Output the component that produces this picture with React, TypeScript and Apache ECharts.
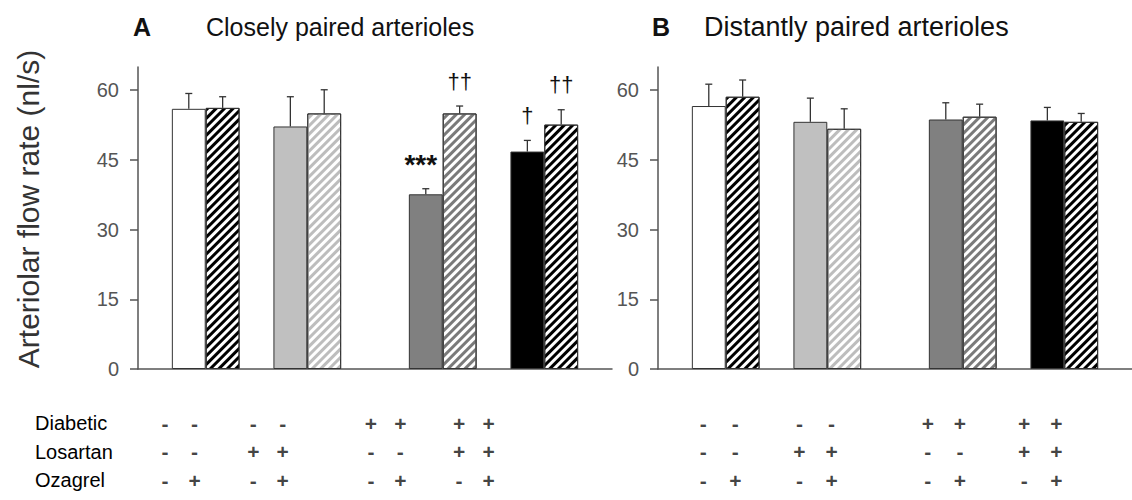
import React, { useEffect, useRef } from 'react';
import * as echarts from 'echarts';

// ---- data ----
const rowNames = ['Diabetic', 'Losartan', 'Ozagrel'];
const diabetic = ['-', '-', '-', '-', '+', '+', '+', '+'];
const losartan = ['-', '-', '+', '+', '-', '-', '+', '+'];
const ozagrel = ['-', '+', '-', '+', '-', '+', '-', '+'];

const closelyMeans = [56.0, 56.2, 52.2, 55.0, 37.6, 55.0, 46.8, 52.6];
const closelyErr = [3.3, 2.4, 6.4, 5.1, 1.2, 1.6, 2.4, 3.2];
const closelyMarks = ['', '', '', '', '***', '††', '†', '††'];

const distantlyMeans = [56.6, 58.6, 53.2, 51.7, 53.7, 54.3, 53.5, 53.2];
const distantlyErr = [4.7, 3.6, 5.1, 4.3, 3.6, 2.7, 2.8, 1.8];
const distantlyMarks = ['', '', '', '', '', '', '', ''];

const yTicks = [0, 15, 30, 45, 60];
const panelTitles = ['Closely paired arterioles', 'Distantly paired arterioles'];
const panelLetters = ['A', 'B'];
const yTitle = 'Arteriolar flow rate (nl/s)';

// ---- styling / layout ----
const FONT = 'Liberation Sans, Arial, sans-serif';
const SLOT_COUNT = 14;
const BAR_SLOTS = [1, 2, 4, 5, 8, 9, 11, 12];
const groupFill = ['#ffffff', '#c0c0c0', '#808080', '#000000'];
const stripeColor = ['#000000', '#bdbdbd', '#7a7a7a', '#000000'];

function barItemStyle(i: number) {
  const g = Math.floor(i / 2);
  const hatched = i % 2 === 1;
  if (!hatched) {
    return { color: groupFill[g], borderColor: '#333', borderWidth: 1 };
  }
  return {
    color: '#ffffff',
    borderColor: '#333',
    borderWidth: 1,
    decal: {
      symbol: 'rect',
      symbolSize: 1,
      color: stripeColor[g],
      dashArrayX: [1, 0],
      dashArrayY: [2.6, 2.6],
      rotation: -Math.PI / 4,
    },
  };
}

function barData(means: number[]) {
  const arr: any[] = Array(SLOT_COUNT).fill('-');
  means.forEach((v, i) => {
    arr[BAR_SLOTS[i]] = { value: v, itemStyle: barItemStyle(i) };
  });
  return arr;
}

function errorSeries(idx: number, means: number[], errs: number[], marks: string[]) {
  return {
    type: 'custom',
    xAxisIndex: idx,
    yAxisIndex: idx,
    z: 5,
    data: means.map((v, i) => [BAR_SLOTS[i], v, errs[i]]),
    encode: { x: 0, y: 1 },
    renderItem: (params: any, api: any) => {
      const slot = api.value(0);
      const v = api.value(1);
      const e = api.value(2);
      const base = api.coord([slot, v]);
      const top = api.coord([slot, v + e]);
      const children: any[] = [
        {
          type: 'line',
          shape: { x1: base[0], y1: base[1], x2: top[0], y2: top[1] },
          style: { stroke: '#333', lineWidth: 1.3 },
        },
        {
          type: 'line',
          shape: { x1: top[0] - 3.5, y1: top[1], x2: top[0] + 3.5, y2: top[1] },
          style: { stroke: '#333', lineWidth: 1.3 },
        },
      ];
      const m = marks[params.dataIndex];
      if (m) {
        const stars = m.indexOf('*') >= 0;
        children.push({
          type: 'text',
          style: {
            text: m,
            x: top[0] + (stars ? -5 : 0),
            y: top[1] - (stars ? 24 : 25),
            align: 'center',
            verticalAlign: 'middle',
            fontFamily: FONT,
            fontSize: stars ? 28 : 22,
            fontWeight: stars ? 'bold' : 'normal',
            fill: '#111',
          },
        });
      }
      return { type: 'group', children };
    },
  };
}

function tableSeries(idx: number) {
  const rows = [diabetic, losartan, ozagrel];
  const data: any[] = [];
  rows.forEach((row, r) => {
    row.forEach((s, i) => data.push([BAR_SLOTS[i], r, s]));
  });
  return {
    type: 'scatter',
    xAxisIndex: idx,
    yAxisIndex: idx,
    symbolSize: 1,
    itemStyle: { color: 'rgba(0,0,0,0)' },
    data,
    label: {
      show: true,
      position: 'inside',
      formatter: (p: any) => p.value[2],
      fontFamily: FONT,
      fontSize: 21,
      fontWeight: 'bold',
      color: '#111',
    },
  };
}

function buildOption(): any {
  const slotNames = Array.from({ length: SLOT_COUNT }, (_, i) => 's' + i);
  const chartGrids = [
    { left: 138, top: 67, width: 474, height: 302 },
    { left: 658, top: 67, width: 474, height: 302 },
  ];
  const tableGrids = [
    { left: 121, top: 409, width: 411.6, height: 85.5 },
    { left: 655, top: 409, width: 449.4, height: 85.5 },
  ];
  const valueAxis = (gi: number) => ({
    type: 'value',
    gridIndex: gi,
    min: 0,
    max: 65,
    interval: 15,
    splitLine: { show: false },
    axisLine: { show: true, lineStyle: { color: '#555', width: 1.5 } },
    axisTick: { show: true, length: 8, lineStyle: { color: '#555', width: 1.5 }, customValues: yTicks },
    axisLabel: { customValues: yTicks, color: '#555', fontSize: 20, fontFamily: FONT, margin: 19 },
  });
  const catAxis = (gi: number) => ({
    type: 'category',
    gridIndex: gi,
    data: slotNames,
    axisLine: { show: true, onZero: false, lineStyle: { color: '#555', width: 1.5 } },
    axisTick: { show: false },
    axisLabel: { show: false },
    splitLine: { show: false },
  });
  const tableX = (gi: number) => ({
    type: 'category',
    gridIndex: gi,
    data: slotNames,
    show: false,
  });
  const tableY = (gi: number, showLabels: boolean) => ({
    type: 'category',
    gridIndex: gi,
    data: rowNames,
    inverse: true,
    axisLine: { show: false },
    axisTick: { show: false },
    splitLine: { show: false },
    axisLabel: {
      show: showLabels,
      align: 'left',
      margin: 86,
      fontSize: 20,
      fontFamily: FONT,
      fontWeight: 'normal',
      color: '#000',
    },
  });

  return {
    animation: false,
    backgroundColor: '#ffffff',
    title: [
      { text: panelLetters[0], left: 128, top: 9, textStyle: { fontFamily: FONT, fontSize: 25, fontWeight: 'bold', color: '#111' } },
      { text: panelTitles[0], left: 201, top: 9, textStyle: { fontFamily: FONT, fontSize: 25, fontWeight: 'normal', color: '#111' } },
      { text: panelLetters[1], left: 647, top: 9, textStyle: { fontFamily: FONT, fontSize: 25, fontWeight: 'bold', color: '#111' } },
      { text: panelTitles[1], left: 699, top: 8, textStyle: { fontFamily: FONT, fontSize: 27, fontWeight: 'normal', color: '#111' } },
    ],
    grid: [...chartGrids, ...tableGrids],
    xAxis: [catAxis(0), catAxis(1), tableX(2), tableX(3)],
    yAxis: [valueAxis(0), valueAxis(1), tableY(2, true), tableY(3, false)],
    graphic: [
      {
        type: 'text',
        x: 28,
        y: 209,
        rotation: Math.PI / 2,
        style: {
          text: yTitle,
          align: 'center',
          verticalAlign: 'middle',
          fontFamily: FONT,
          fontSize: 30,
          fill: '#333',
        },
      },
    ],
    series: [
      { type: 'bar', xAxisIndex: 0, yAxisIndex: 0, barWidth: '100%', data: barData(closelyMeans) },
      errorSeries(0, closelyMeans, closelyErr, closelyMarks),
      { type: 'bar', xAxisIndex: 1, yAxisIndex: 1, barWidth: '100%', data: barData(distantlyMeans) },
      errorSeries(1, distantlyMeans, distantlyErr, distantlyMarks),
      tableSeries(2),
      tableSeries(3),
    ],
  };
}

export default function App() {
  const ref = useRef<HTMLDivElement>(null);
  useEffect(() => {
    const chart = echarts.init(ref.current as HTMLDivElement, null, { renderer: 'svg' });
    chart.setOption(buildOption());
    return () => chart.dispose();
  }, []);
  return (
    <div
      ref={ref}
      style={{ position: 'fixed', left: 0, top: 0, width: 1132, height: 500, background: '#fff' }}
    />
  );
}
